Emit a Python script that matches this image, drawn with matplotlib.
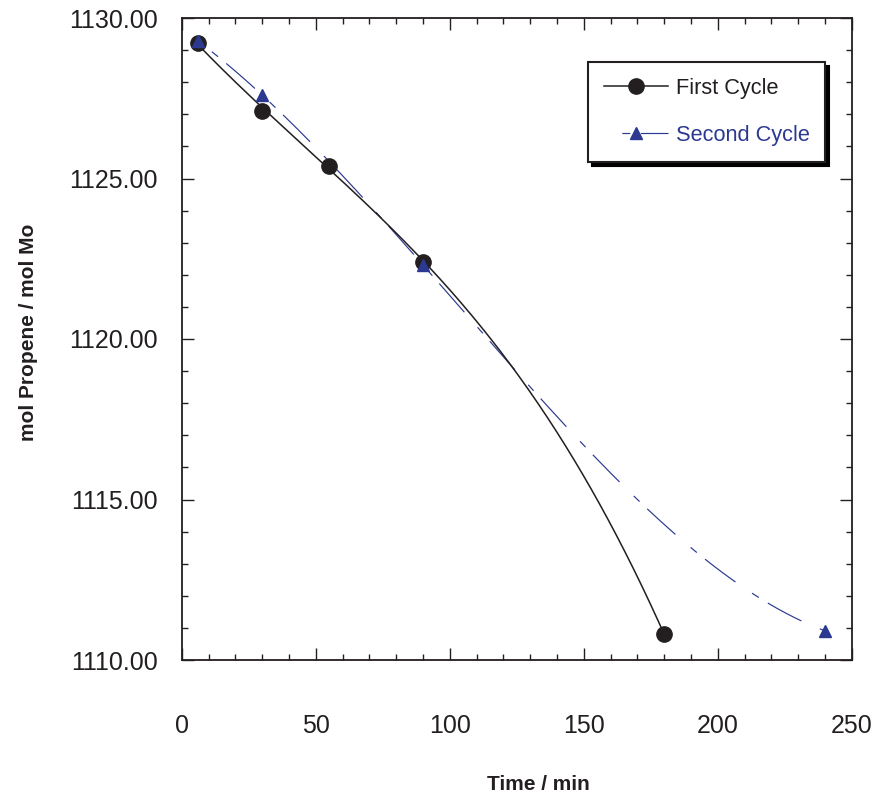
import numpy as np
import matplotlib
matplotlib.use("Agg")
import matplotlib.pyplot as plt
from matplotlib.ticker import MultipleLocator, FormatStrFormatter

plt.rcParams["font.family"] = ["Liberation Sans", "DejaVu Sans"]
plt.rcParams["lines.scale_dashes"] = False

# Propene consumption over time for two catalytic cycles
first_time = [6, 30, 55, 90, 180]
first_propene = [1129.21, 1127.11, 1125.40, 1122.41, 1110.81]

second_time = [6, 30, 90, 240]
second_propene = [1129.29, 1127.60, 1122.31, 1110.91]

INK = "#231F20"
BLUE = "#2B3990"


def cubic_trend(x, y, num=500):
    """Third-order polynomial trend line over the range of the points."""
    coef = np.polyfit(x, y, 3)
    xs = np.linspace(min(x), max(x), num)
    return xs, np.polyval(coef, xs)


fig = plt.figure(figsize=(8.75, 7.93), dpi=100)
ax = fig.add_axes([181.7 / 875, 1 - 660 / 793, 670 / 875, 642 / 793])
ax.set_xlim(0, 250)
ax.set_ylim(1110, 1130)

dash = (29, (27.4, 14.4, 5.8, 7.6))

sx, sy = cubic_trend(second_time, second_propene)
fx, fy = cubic_trend(first_time, first_propene)

ax.plot(sx, sy, color=BLUE, lw=0.85, linestyle=dash, zorder=2)
ax.plot(fx, fy, color=INK, lw=1.1, zorder=3)
ax.plot(first_time, first_propene, linestyle="none", marker="o",
        markersize=11, color=INK, zorder=4)
ax.plot(second_time, second_propene, linestyle="none", marker="^",
        markersize=8, color=BLUE, zorder=5)

# Legend proxies: line with marker in the middle
h1, = ax.plot([], [], color=INK, lw=1.1, marker="o", markersize=11)
h2, = ax.plot([], [], color=BLUE, lw=0.85, linestyle=dash,
              marker="^", markersize=8)
leg = ax.legend([h1, h2], ["First Cycle", "Second Cycle"],
                loc="upper left", bbox_to_anchor=(0.6064, 0.9315),
                borderaxespad=0, fontsize=15.7, handlelength=2.95,
                handletextpad=0.35, labelspacing=1.2, borderpad=0.72,
                fancybox=False, numpoints=1,
                shadow={"ox": 3, "oy": -3, "color": "black", "alpha": 1},
                labelcolor=[INK, BLUE])
leg.get_frame().set_edgecolor(INK)
leg.get_frame().set_linewidth(1.5)
leg.get_frame().set_alpha(1)

ax.xaxis.set_major_locator(MultipleLocator(50))
ax.xaxis.set_minor_locator(MultipleLocator(10))
ax.yaxis.set_major_locator(MultipleLocator(5))
ax.yaxis.set_minor_locator(MultipleLocator(1))
ax.yaxis.set_major_formatter(FormatStrFormatter("%.2f"))

ax.tick_params(which="both", direction="in", top=True, right=True,
               color=INK, width=1.0, labelcolor=INK, labelsize=18)
ax.tick_params(which="major", length=8.5)
ax.tick_params(which="minor", length=4.3)
ax.tick_params(axis="x", pad=39)
ax.tick_params(axis="y", pad=17)

for sp in ax.spines.values():
    sp.set_linewidth(1.3)
    sp.set_color(INK)

fig.text(538 / 875, 1 - 784 / 793, "Time / min", ha="center", va="center",
         fontsize=15, fontweight="bold", color=INK)
fig.text(29 / 875, 1 - 332 / 793, "mol Propene / mol Mo", ha="center",
         va="center", rotation=90, fontsize=15, fontweight="bold", color=INK)

fig.savefig("out.png", dpi=100, facecolor="white")
